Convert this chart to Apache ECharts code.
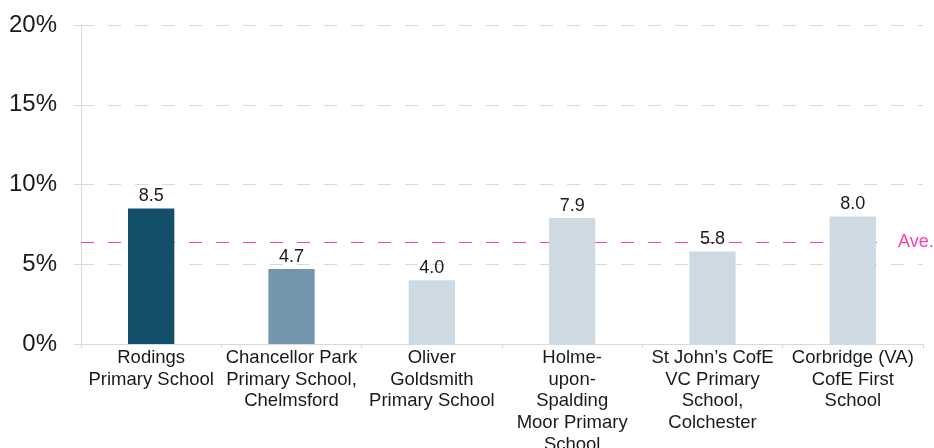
<!DOCTYPE html>
<html>
<head>
<meta charset="utf-8">
<script src="https://cdn.jsdelivr.net/npm/echarts@6/dist/echarts.min.js"></script>
<style>
  html, body { margin: 0; padding: 0; background: #fff; }
  #chart { width: 934px; height: 448px; }
</style>
</head>
<body>
<div id="chart"></div>
<script>
const schools = [
  'Rodings\nPrimary School',
  'Chancellor Park\nPrimary School,\nChelmsford',
  'Oliver\nGoldsmith\nPrimary School',
  'Holme-\nupon-\nSpalding\nMoor Primary\nSchool',
  'St John\u2019s CofE\nVC Primary\nSchool,\nColchester',
  'Corbridge (VA)\nCofE First\nSchool'
]
const rates = [8.5, 4.7, 4.0, 7.9, 5.8, 8.0]
const barColors = ['#134f6a', '#7395ad', '#cddae3', '#cddae3', '#cddae3', '#cddae3']
const average = 6.4
const yTicks = [0, 5, 10, 15, 20]

const font = '"Liberation Sans", Arial, sans-serif'
const pink = '#ff3ea5'

const chart = echarts.init(document.getElementById('chart'))

chart.setOption({
  animation: false,
  textStyle: { fontFamily: font },
  grid: { left: 81, right: 11, top: 25, bottom: 104, outerBoundsMode: 'none', containLabel: false },
  xAxis: {
    type: 'category',
    data: schools,
    axisLine: { lineStyle: { color: '#d9d9d9', width: 1 } },
    axisTick: { show: true, length: 4, lineStyle: { color: '#d9d9d9' } },
    axisLabel: {
      interval: 0,
      margin: 3,
      color: '#1a1a1a',
      fontSize: 18.5,
      lineHeight: 21.7,
      fontFamily: font
    }
  },
  yAxis: {
    type: 'value',
    min: yTicks[0],
    max: yTicks[yTicks.length - 1],
    interval: 5,
    axisLine: { show: true, lineStyle: { color: '#d9d9d9' } },
    axisTick: { show: true, length: 7, lineStyle: { color: '#d9d9d9' } },
    splitLine: { lineStyle: { color: '#d9d9d9', type: [13, 14] } },
    axisLabel: {
      margin: 24,
      color: '#1a1a1a',
      fontSize: 24,
      fontFamily: font,
      padding: [0, 0, 7, 0],
      formatter: v => v + '%'
    }
  },
  series: [
    {
      type: 'line',
      data: [],
      z: 1,
      color: pink,
      markLine: {
        z: 1,
        silent: true,
        symbol: 'none',
        lineStyle: { color: pink, type: [13, 14], width: 1, opacity: 1 },
        label: {
          show: true,
          position: 'end',
          distance: 8,
          formatter: 'Ave.',
          color: pink,
          fontSize: 18,
          fontFamily: font,
          padding: [0, 0, 10, 0]
        },
        data: [[
          { yAxis: average, x: 81, lineStyle: { color: pink } },
          { yAxis: average, x: 890, lineStyle: { color: pink } }
        ]]
      }
    },
    {
      type: 'bar',
      z: 3,
      barWidth: '33%',
      data: rates.map((v, i) => ({ value: v, itemStyle: { color: barColors[i] } })),
      label: {
        show: true,
        position: 'top',
        distance: 3,
        color: '#1a1a1a',
        fontSize: 18,
        fontFamily: font,
        formatter: p => p.value.toFixed(1)
      }
    }
  ]
})
</script>
</body>
</html>
